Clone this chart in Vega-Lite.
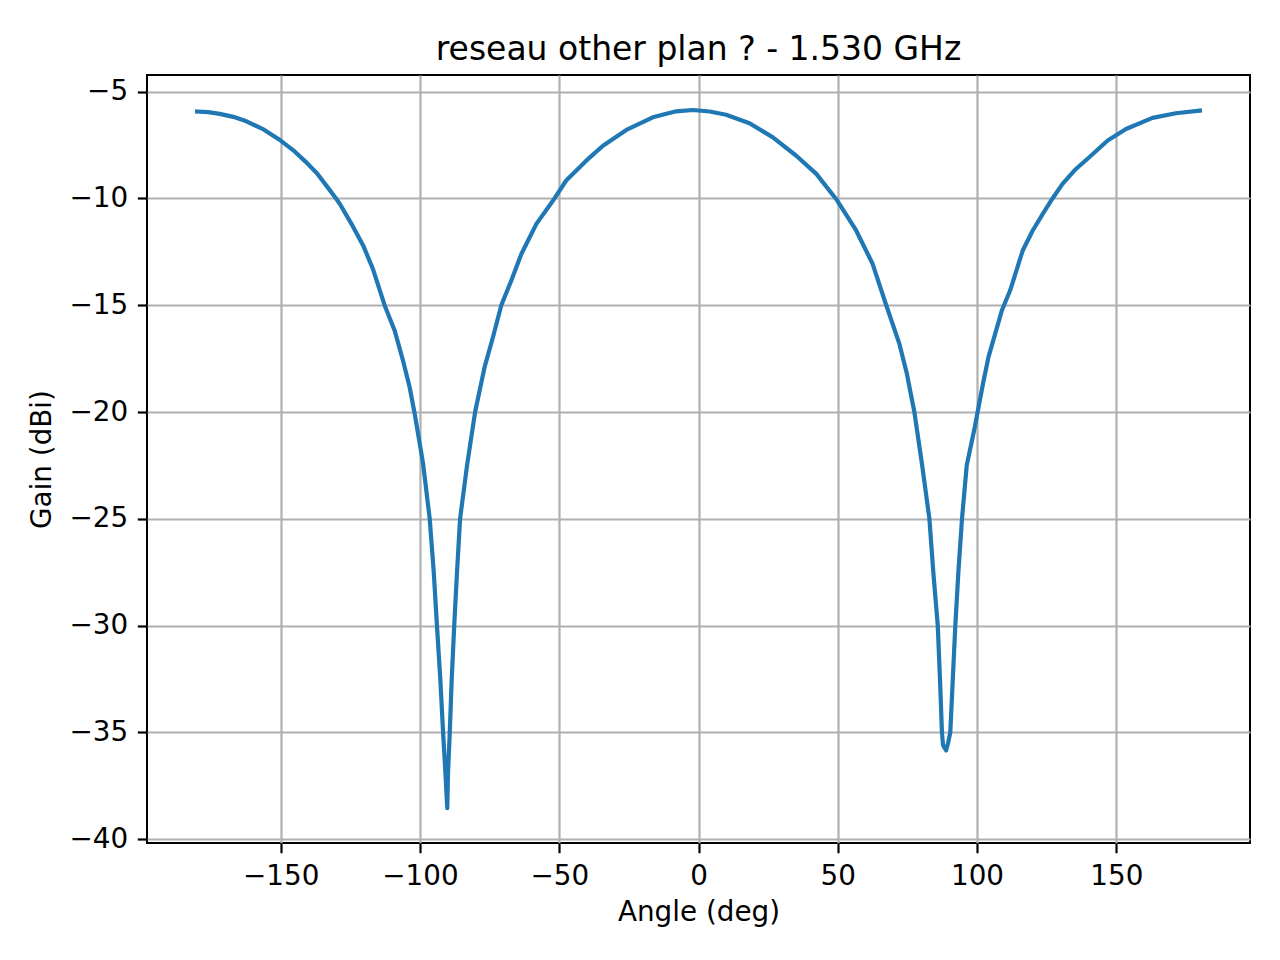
{
  "$schema": "https://vega.github.io/schema/vega-lite/v6.json",
  "width": 1103,
  "height": 768,
  "autosize": {"type": "none"},
  "padding": {"left": 147, "top": 75, "right": 30, "bottom": 117},
  "background": "white",
  "title": {
    "text": "reseau other plan ? - 1.530 GHz",
    "font": "DejaVu Sans",
    "fontSize": 33,
    "fontWeight": "normal",
    "color": "black",
    "anchor": "middle",
    "offset": 8
  },
  "config": {
    "view": {"stroke": "black", "strokeWidth": 2},
    "axis": {
      "domain": false,
      "grid": true,
      "gridColor": "#b0b0b0",
      "gridWidth": 2.2,
      "gridOpacity": 1,
      "ticks": true,
      "tickColor": "black",
      "tickSize": 9.7,
      "tickWidth": 2.2,
      "labelFont": "DejaVu Sans",
      "labelFontSize": 27.8,
      "labelColor": "black",
      "labelPadding": 9.7,
      "titleFont": "DejaVu Sans",
      "titleFontSize": 27.8,
      "titleFontWeight": "normal",
      "titleColor": "black"
    }
  },
  "data": {
    "values": [
      {"angle": -180, "gain": -5.93},
      {"angle": -176, "gain": -5.96},
      {"angle": -171.9, "gain": -6.04},
      {"angle": -167, "gain": -6.18},
      {"angle": -162.3, "gain": -6.39},
      {"angle": -156, "gain": -6.78},
      {"angle": -150, "gain": -7.29},
      {"angle": -145, "gain": -7.8},
      {"angle": -140.8, "gain": -8.31},
      {"angle": -137, "gain": -8.82},
      {"angle": -133.6, "gain": -9.4},
      {"angle": -130.6, "gain": -9.92},
      {"angle": -128.8, "gain": -10.25},
      {"angle": -124.6, "gain": -11.19},
      {"angle": -120.4, "gain": -12.2},
      {"angle": -116.9, "gain": -13.3},
      {"angle": -112.7, "gain": -15.0},
      {"angle": -109.1, "gain": -16.18},
      {"angle": -106.1, "gain": -17.59},
      {"angle": -103.7, "gain": -18.84},
      {"angle": -101.9, "gain": -20.08},
      {"angle": -98.9, "gain": -22.4},
      {"angle": -96.5, "gain": -25.0},
      {"angle": -95.1, "gain": -27.4},
      {"angle": -93.9, "gain": -30.0},
      {"angle": -92.7, "gain": -32.5},
      {"angle": -91.7, "gain": -35.0},
      {"angle": -90.9, "gain": -36.8},
      {"angle": -90.2, "gain": -38.55},
      {"angle": -89.9, "gain": -36.8},
      {"angle": -89.3, "gain": -35.0},
      {"angle": -88.6, "gain": -32.5},
      {"angle": -87.7, "gain": -30.0},
      {"angle": -86.7, "gain": -27.5},
      {"angle": -85.6, "gain": -25.0},
      {"angle": -83.1, "gain": -22.5},
      {"angle": -80.2, "gain": -20.0},
      {"angle": -76.8, "gain": -17.9},
      {"angle": -73.8, "gain": -16.5},
      {"angle": -70.8, "gain": -15.0},
      {"angle": -67.2, "gain": -13.84},
      {"angle": -63.6, "gain": -12.6},
      {"angle": -58.2, "gain": -11.19},
      {"angle": -51.7, "gain": -10.0},
      {"angle": -47.5, "gain": -9.16},
      {"angle": -40.3, "gain": -8.23},
      {"angle": -34.3, "gain": -7.53},
      {"angle": -25.9, "gain": -6.79},
      {"angle": -16.4, "gain": -6.2},
      {"angle": -8.0, "gain": -5.92},
      {"angle": -2.0, "gain": -5.86},
      {"angle": 4.0, "gain": -5.93},
      {"angle": 9.9, "gain": -6.08},
      {"angle": 18.3, "gain": -6.48},
      {"angle": 26.7, "gain": -7.14},
      {"angle": 35.1, "gain": -8.0},
      {"angle": 42.3, "gain": -8.85},
      {"angle": 49.8, "gain": -10.1},
      {"angle": 56.6, "gain": -11.5},
      {"angle": 62.5, "gain": -13.06},
      {"angle": 67.4, "gain": -15.0},
      {"angle": 72.1, "gain": -16.8},
      {"angle": 74.8, "gain": -18.2},
      {"angle": 77.5, "gain": -20.0},
      {"angle": 80.3, "gain": -22.5},
      {"angle": 82.9, "gain": -25.0},
      {"angle": 84.3, "gain": -27.5},
      {"angle": 85.9, "gain": -30.0},
      {"angle": 86.7, "gain": -32.5},
      {"angle": 87.4, "gain": -35.0},
      {"angle": 87.8, "gain": -35.6},
      {"angle": 88.9, "gain": -35.85},
      {"angle": 89.6, "gain": -35.5},
      {"angle": 90.4, "gain": -35.0},
      {"angle": 91.3, "gain": -32.5},
      {"angle": 92.2, "gain": -30.0},
      {"angle": 93.3, "gain": -27.5},
      {"angle": 94.6, "gain": -25.0},
      {"angle": 96.3, "gain": -22.5},
      {"angle": 99.2, "gain": -20.7},
      {"angle": 100.2, "gain": -20.0},
      {"angle": 102.1, "gain": -18.7},
      {"angle": 104.1, "gain": -17.43},
      {"angle": 106.5, "gain": -16.34},
      {"angle": 108.9, "gain": -15.25},
      {"angle": 111.9, "gain": -14.3},
      {"angle": 116.4, "gain": -12.44},
      {"angle": 120.0, "gain": -11.5},
      {"angle": 123.6, "gain": -10.72},
      {"angle": 127.1, "gain": -10.0},
      {"angle": 130.7, "gain": -9.32},
      {"angle": 135.5, "gain": -8.62},
      {"angle": 140.3, "gain": -8.07},
      {"angle": 146.9, "gain": -7.29},
      {"angle": 153.5, "gain": -6.75},
      {"angle": 163.0, "gain": -6.23},
      {"angle": 171.4, "gain": -6.01},
      {"angle": 180, "gain": -5.89}
    ]
  },
  "mark": {"type": "line", "color": "#1f77b4", "strokeWidth": 4.2, "strokeJoin": "round", "strokeCap": "square"},
  "encoding": {
    "x": {
      "field": "angle",
      "type": "quantitative",
      "scale": {"domain": [-198, 198], "nice": false, "zero": false},
      "axis": {"values": [-150, -100, -50, 0, 50, 100, 150], "title": "Angle (deg)", "titlePadding": 8}
    },
    "y": {
      "field": "gain",
      "type": "quantitative",
      "scale": {"domain": [-40.18, -4.22], "nice": false, "zero": false},
      "axis": {"values": [-40, -35, -30, -25, -20, -15, -10, -5], "title": "Gain (dBi)", "titlePadding": 12}
    }
  }
}
